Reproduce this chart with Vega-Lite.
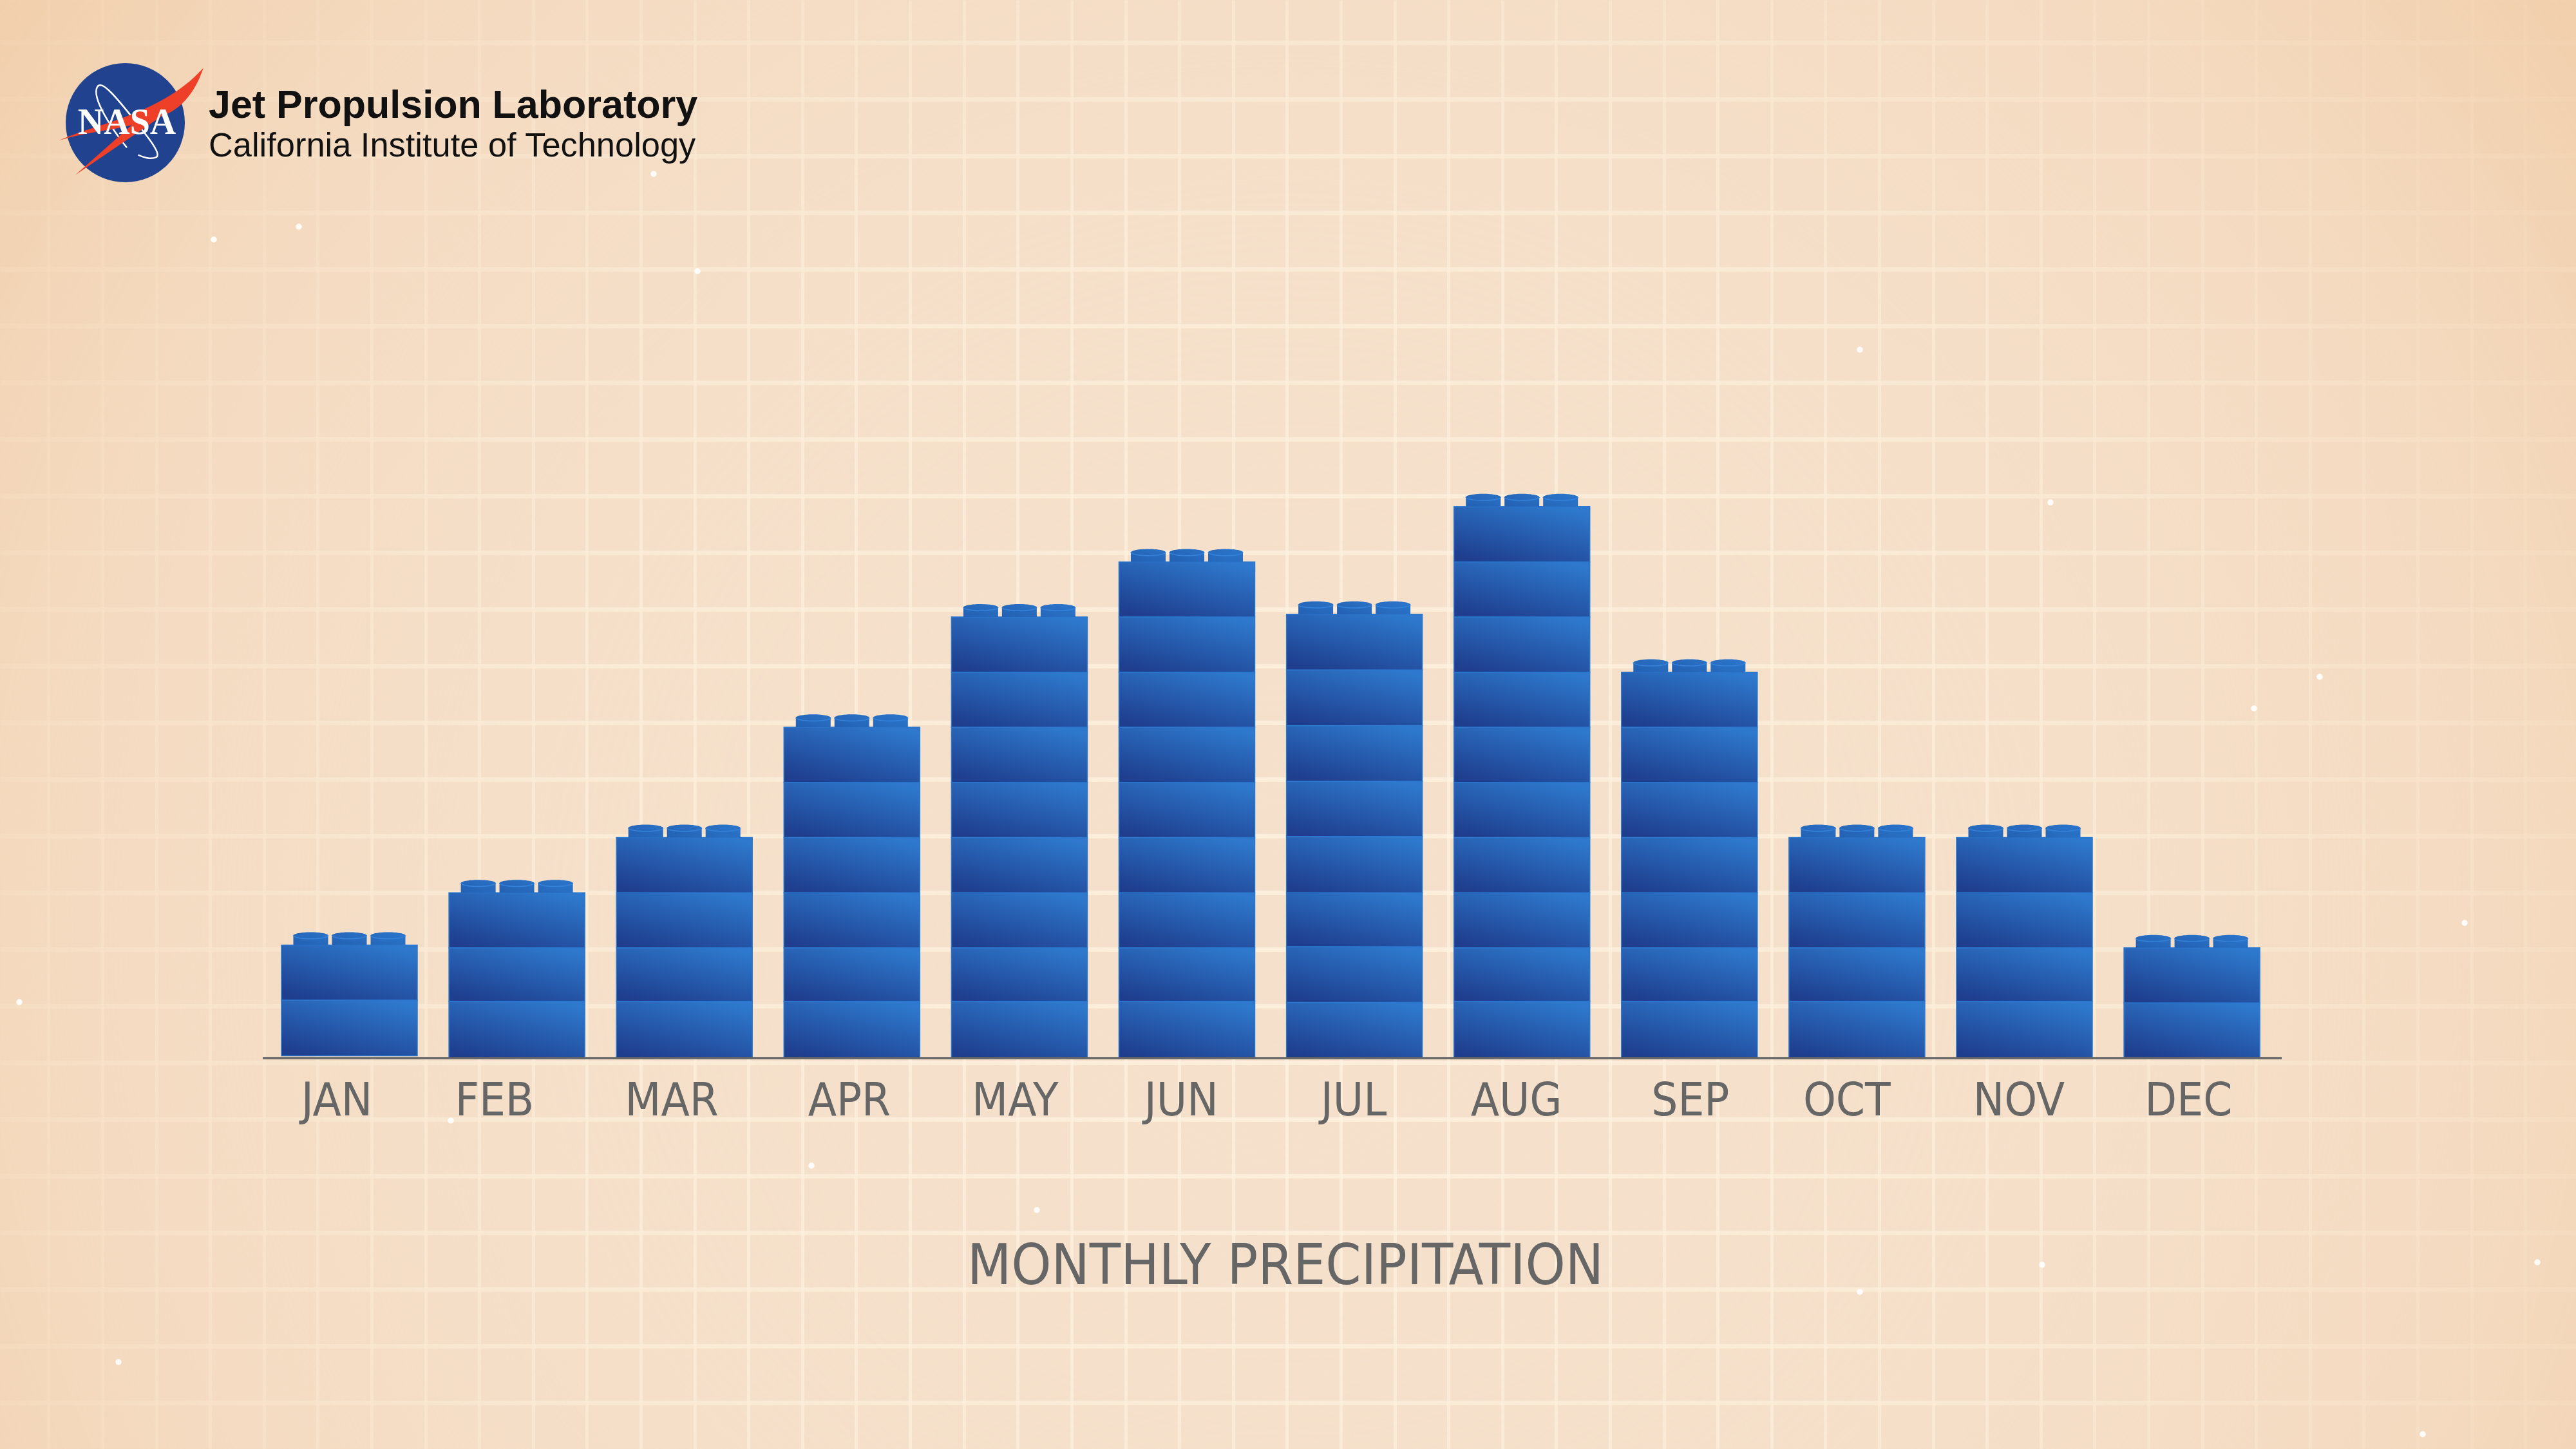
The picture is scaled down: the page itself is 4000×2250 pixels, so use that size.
{
"$schema":"https://vega.github.io/schema/vega-lite/v6.json",
"width":4000,"height":2250,"padding":0,
"autosize":{"type":"fit","contains":"padding"},
"background":"#f5e0cb",
"config":{"view":{"stroke":null}},
"datasets":{
"bricks":[
{"m":1,"brick":1,"base":0.04,"top":1.05},{"m":1,"brick":2,"base":1.05,"top":2.05},
{"m":2,"brick":1,"base":0,"top":1.03},{"m":2,"brick":2,"base":1.03,"top":2},{"m":2,"brick":3,"base":2,"top":3},
{"m":3,"brick":1,"base":0,"top":1.03},{"m":3,"brick":2,"base":1.03,"top":2},{"m":3,"brick":3,"base":2,"top":3},{"m":3,"brick":4,"base":3,"top":4},
{"m":4,"brick":1,"base":0,"top":1.03},{"m":4,"brick":2,"base":1.03,"top":2},{"m":4,"brick":3,"base":2,"top":3},{"m":4,"brick":4,"base":3,"top":4},{"m":4,"brick":5,"base":4,"top":5},{"m":4,"brick":6,"base":5,"top":6},
{"m":5,"brick":1,"base":0,"top":1.03},{"m":5,"brick":2,"base":1.03,"top":2},{"m":5,"brick":3,"base":2,"top":3},{"m":5,"brick":4,"base":3,"top":4},{"m":5,"brick":5,"base":4,"top":5},{"m":5,"brick":6,"base":5,"top":6},{"m":5,"brick":7,"base":6,"top":7},{"m":5,"brick":8,"base":7,"top":8},
{"m":6,"brick":1,"base":0,"top":1.03},{"m":6,"brick":2,"base":1.03,"top":2},{"m":6,"brick":3,"base":2,"top":3},{"m":6,"brick":4,"base":3,"top":4},{"m":6,"brick":5,"base":4,"top":5},{"m":6,"brick":6,"base":5,"top":6},{"m":6,"brick":7,"base":6,"top":7},{"m":6,"brick":8,"base":7,"top":8},{"m":6,"brick":9,"base":8,"top":9},
{"m":7,"brick":1,"base":0,"top":1.01},{"m":7,"brick":2,"base":1.01,"top":2.02},{"m":7,"brick":3,"base":2.02,"top":3},{"m":7,"brick":4,"base":3,"top":4.02},{"m":7,"brick":5,"base":4.02,"top":5.02},{"m":7,"brick":6,"base":5.02,"top":6.03},{"m":7,"brick":7,"base":6.03,"top":7.04},{"m":7,"brick":8,"base":7.04,"top":8.05},
{"m":8,"brick":1,"base":0,"top":1.03},{"m":8,"brick":2,"base":1.03,"top":2},{"m":8,"brick":3,"base":2,"top":3},{"m":8,"brick":4,"base":3,"top":4},{"m":8,"brick":5,"base":4,"top":5},{"m":8,"brick":6,"base":5,"top":6},{"m":8,"brick":7,"base":6,"top":7},{"m":8,"brick":8,"base":7,"top":8},{"m":8,"brick":9,"base":8,"top":9},{"m":8,"brick":10,"base":9,"top":10},
{"m":9,"brick":1,"base":0,"top":1.03},{"m":9,"brick":2,"base":1.03,"top":2},{"m":9,"brick":3,"base":2,"top":3},{"m":9,"brick":4,"base":3,"top":4},{"m":9,"brick":5,"base":4,"top":5},{"m":9,"brick":6,"base":5,"top":6},{"m":9,"brick":7,"base":6,"top":7},
{"m":10,"brick":1,"base":0,"top":1.03},{"m":10,"brick":2,"base":1.03,"top":2},{"m":10,"brick":3,"base":2,"top":3},{"m":10,"brick":4,"base":3,"top":4},
{"m":11,"brick":1,"base":0,"top":1.03},{"m":11,"brick":2,"base":1.03,"top":2},{"m":11,"brick":3,"base":2,"top":3},{"m":11,"brick":4,"base":3,"top":4},
{"m":12,"brick":1,"base":0,"top":1},{"m":12,"brick":2,"base":1,"top":2}
],
"months":[
{"month":"JAN","m":1,"top":2.05,"label_at":0.925},
{"month":"FEB","m":2,"top":3,"label_at":1.867},
{"month":"MAR","m":3,"top":4,"label_at":2.925},
{"month":"APR","m":4,"top":6,"label_at":3.985},
{"month":"MAY","m":5,"top":8,"label_at":4.975},
{"month":"JUN","m":6,"top":9,"label_at":5.966},
{"month":"JUL","m":7,"top":8.05,"label_at":6.996},
{"month":"AUG","m":8,"top":10,"label_at":7.967},
{"month":"SEP","m":9,"top":7,"label_at":9.006},
{"month":"OCT","m":10,"top":4,"label_at":9.94},
{"month":"NOV","m":11,"top":4,"label_at":10.967},
{"month":"DEC","m":12,"top":2,"label_at":11.98}
],
"specks":[
{"px":332,"py":372},{"px":3602,"py":1051},{"px":3762,"py":2227},{"px":3171,"py":1964},{"px":184,"py":2115},{"px":30,"py":1556},{"px":1083,"py":421},{"px":2888,"py":543},{"px":3184,"py":780},{"px":3827,"py":1433},{"px":464,"py":352},{"px":2888,"py":2006},{"px":1610,"py":1879},{"px":1260,"py":1810},{"px":700,"py":1740},{"px":3500,"py":1100},{"px":1015,"py":270},{"px":3940,"py":1960}
]
},
"resolve":{"scale":{"x":"independent","y":"independent"}},
"layer":[
{"data":{"values":[{"sheet":"paper"}]},
 "mark":{"type":"rect","fill":{"gradient":"radial","x1":0.5,"y1":0.58,"r1":0,"x2":0.5,"y2":0.58,"r2":0.72,"stops":[{"offset":0,"color":"rgba(246,225,205,0)"},{"offset":0.4,"color":"rgba(245,222,198,0.3)"},{"offset":0.7,"color":"rgba(243,214,184,0.75)"},{"offset":1,"color":"rgba(238,196,152,1)"}]}},
 "encoding":{
  "x":{"datum":0,"type":"quantitative","scale":{"domain":[0,4000],"nice":false,"padding":0},
   "axis":{"values":[75,159,243,326,410,493,577,661,744,828,911,995,1079,1162,1246,1329,1413,1497,1580,1664,1748,1831,1915,1998,2082,2166,2249,2333,2416,2500,2584,2667,2751,2834,2918,3002,3085,3169,3252,3336,3420,3503,3587,3670,3754,3838,3921],"grid":true,"gridColor":"#fff5e2","gridWidth":5,"gridOpacity":0.7,"labels":false,"ticks":false,"domain":false,"title":null}},
  "x2":{"datum":4000},
  "y":{"datum":0,"type":"quantitative","scale":{"domain":[2250,0],"nice":false,"zero":false,"padding":0},
   "axis":{"values":[66,154,242,330,418,506,594,682,770,858,946,1034,1122,1210,1298,1386,1474,1562,1650,1738,1826,1914,2002,2090,2178],"grid":true,"gridColor":"#fff5e2","gridWidth":7,"gridOpacity":0.7,"labels":false,"ticks":false,"domain":false,"title":null}},
  "y2":{"datum":2250}
 }},
{"layer":[
 {"data":{"name":"bricks"},
  "mark":{"type":"bar","width":211,"stroke":"#2b78cf","strokeWidth":1.5,"fill":{"gradient":"linear","x1":0.2,"y1":1,"x2":0.8,"y2":0,"stops":[{"offset":0,"color":"#1f3e8e"},{"offset":1,"color":"#2e79cd"}]}},
  "encoding":{
   "x":{"field":"m","type":"quantitative","scale":{"domain":[-1.0857,14.293],"nice":false,"zero":false,"padding":0},"axis":null},
   "y":{"field":"top","type":"quantitative","scale":{"domain":[-7.09,19.19],"nice":false,"zero":false,"padding":0},"axis":null},
   "y2":{"field":"base"},
   "detail":{"field":"brick"}
  }},
 {"data":{"name":"months"},
  "mark":{"type":"point","filled":true,"opacity":1,"size":2916,"xOffset":-60,"shape":"M-1,0 L-1,-0.55 A1,0.19 0 0 1 1,-0.55 L1,0 Z","fill":{"gradient":"linear","x1":0,"y1":1,"x2":1,"y2":0,"stops":[{"offset":0,"color":"#2360b2"},{"offset":1,"color":"#2a72c6"}]}},
  "encoding":{"x":{"field":"m","type":"quantitative"},"y":{"field":"top","type":"quantitative"}}},
 {"data":{"name":"months"},
  "mark":{"type":"point","filled":true,"opacity":1,"size":2916,"shape":"M-1,0 L-1,-0.55 A1,0.19 0 0 1 1,-0.55 L1,0 Z","fill":{"gradient":"linear","x1":0,"y1":1,"x2":1,"y2":0,"stops":[{"offset":0,"color":"#2360b2"},{"offset":1,"color":"#2a72c6"}]}},
  "encoding":{"x":{"field":"m","type":"quantitative"},"y":{"field":"top","type":"quantitative"}}},
 {"data":{"name":"months"},
  "mark":{"type":"point","filled":true,"opacity":1,"size":2916,"xOffset":60,"shape":"M-1,0 L-1,-0.55 A1,0.19 0 0 1 1,-0.55 L1,0 Z","fill":{"gradient":"linear","x1":0,"y1":1,"x2":1,"y2":0,"stops":[{"offset":0,"color":"#2668ba"},{"offset":1,"color":"#2a76cc"}]}},
  "encoding":{"x":{"field":"m","type":"quantitative"},"y":{"field":"top","type":"quantitative"}}},
 {"data":{"name":"months"},
  "mark":{"type":"point","filled":false,"opacity":1,"size":2916,"xOffset":-60,"shape":"M-1,-0.55 A1,0.19 0 0 0 1,-0.55","stroke":"#3482da","strokeWidth":1.5},
  "encoding":{"x":{"field":"m","type":"quantitative"},"y":{"field":"top","type":"quantitative"}}},
 {"data":{"name":"months"},
  "mark":{"type":"point","filled":false,"opacity":1,"size":2916,"shape":"M-1,-0.55 A1,0.19 0 0 0 1,-0.55","stroke":"#3482da","strokeWidth":1.5},
  "encoding":{"x":{"field":"m","type":"quantitative"},"y":{"field":"top","type":"quantitative"}}},
 {"data":{"name":"months"},
  "mark":{"type":"point","filled":false,"opacity":1,"size":2916,"xOffset":60,"shape":"M-1,-0.55 A1,0.19 0 0 0 1,-0.55","stroke":"#3482da","strokeWidth":1.5},
  "encoding":{"x":{"field":"m","type":"quantitative"},"y":{"field":"top","type":"quantitative"}}},
 {"data":{"name":"months"},
  "mark":{"type":"text","font":"DejaVu Sans Condensed","fontSize":72,"color":"#666666","align":"center","baseline":"alphabetic"},
  "encoding":{"text":{"field":"month"},"x":{"field":"label_at","type":"quantitative"},"y":{"datum":-1.04,"type":"quantitative"}}}
]},
{"layer":[
 {"data":{"name":"specks"},
  "mark":{"type":"circle","color":"#ffffff","opacity":0.9,"size":90},
  "encoding":{"x":{"field":"px","type":"quantitative","scale":{"domain":[0,4000],"nice":false,"padding":0},"axis":null},"y":{"field":"py","type":"quantitative","scale":{"domain":[2250,0],"nice":false,"zero":false,"padding":0},"axis":null}}},
 {"data":{"values":[{"item":"baseline"}]},
  "mark":{"type":"rule","color":"#666666","strokeWidth":3.5},
  "encoding":{"x":{"datum":408,"type":"quantitative"},"x2":{"datum":3543},"y":{"datum":1643,"type":"quantitative"}}},
 {"data":{"values":[{"label":"MONTHLY PRECIPITATION"}]},
  "mark":{"type":"text","font":"DejaVu Sans Condensed","fontSize":88,"color":"#666666","align":"center","baseline":"alphabetic"},
  "encoding":{"text":{"field":"label"},"x":{"datum":1996,"type":"quantitative"},"y":{"datum":1994,"type":"quantitative"}}},
 {"data":{"values":[{"item":"meatball"}]},
  "mark":{"type":"point","filled":true,"opacity":1,"fill":"#21428f","size":34225,"shape":"circle"},
  "encoding":{"x":{"datum":194.5,"type":"quantitative"},"y":{"datum":190.5,"type":"quantitative"}}},
 {"data":{"values":[{"item":"orbit"}]},
  "mark":{"type":"point","filled":false,"opacity":1,"stroke":"#ffffff","strokeWidth":2.5,"size":62500,"shape":"M0.02,0.31 C-0.15,0.1 -0.42,-0.3 -0.35,-0.44 C-0.3,-0.55 -0.1,-0.3 0.1,-0.05 C0.3,0.2 0.46,0.4 0.38,0.43 C0.32,0.46 0.22,0.43 0.16,0.4"},
  "encoding":{"x":{"datum":194.5,"type":"quantitative"},"y":{"datum":190.5,"type":"quantitative"}}},
 {"data":{"values":[{"item":"chevron"}]},
  "mark":{"type":"point","filled":true,"opacity":1,"fill":"#ee4028","size":62500,"shape":"M-0.82,0.22 C-0.4,0.02 0.45,-0.1 0.97,-0.68 C0.85,-0.32 0.65,-0.15 0.45,-0.08 L-0.62,0.65 L0.08,0.03 C-0.2,0.1 -0.5,0.12 -0.82,0.22 Z"},
  "encoding":{"x":{"datum":194.5,"type":"quantitative"},"y":{"datum":190.5,"type":"quantitative"}}},
 {"data":{"values":[{"label":"NASA"}]},
  "mark":{"type":"text","font":"Liberation Serif","fontWeight":"bold","fontSize":56,"color":"#ffffff","align":"center","baseline":"alphabetic"},
  "encoding":{"text":{"field":"label"},"x":{"datum":197,"type":"quantitative"},"y":{"datum":208,"type":"quantitative"}}},
 {"data":{"values":[{"label":"Jet Propulsion Laboratory"}]},
  "mark":{"type":"text","font":"Liberation Sans","fontWeight":"bold","fontSize":61,"color":"#111111","align":"left","baseline":"alphabetic"},
  "encoding":{"text":{"field":"label"},"x":{"datum":324,"type":"quantitative"},"y":{"datum":183,"type":"quantitative"}}},
 {"data":{"values":[{"label":"California Institute of Technology"}]},
  "mark":{"type":"text","font":"Liberation Sans","fontSize":52.4,"color":"#111111","align":"left","baseline":"alphabetic"},
  "encoding":{"text":{"field":"label"},"x":{"datum":324,"type":"quantitative"},"y":{"datum":243,"type":"quantitative"}}}
]}
]
}
